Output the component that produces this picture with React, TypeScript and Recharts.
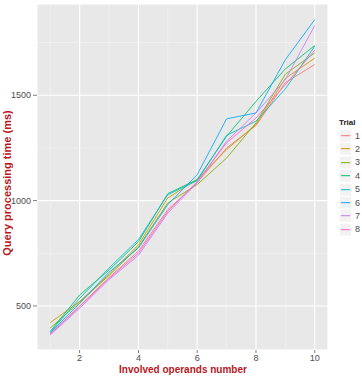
import { LineChart, Line, XAxis, YAxis, CartesianGrid, ReferenceLine } from "recharts";

const operands = [1, 2, 3, 4, 5, 6, 7, 8, 9, 10];
const trial1 = [367, 500, 635, 760, 957, 1085, 1250, 1356, 1560, 1646];
const trial2 = [421, 521, 650, 790, 1013, 1100, 1242, 1361, 1580, 1676];
const trial3 = [395, 518, 645, 780, 989, 1076, 1202, 1369, 1600, 1701];
const trial4 = [379, 552, 670, 805, 1033, 1100, 1305, 1471, 1625, 1736];
const trial5 = [375, 536, 680, 815, 1028, 1095, 1310, 1377, 1530, 1733];
const trial6 = [372, 512, 660, 775, 981, 1123, 1388, 1416, 1669, 1859];
const trial7 = [362, 489, 625, 740, 941, 1084, 1282, 1416, 1574, 1831];
const trial8 = [366, 497, 630, 750, 949, 1090, 1274, 1392, 1550, 1714];

const trialNames = ["1", "2", "3", "4", "5", "6", "7", "8"];
const trialColors = ["#F8766D", "#CD9600", "#7CAE00", "#00BE67", "#00BFC4", "#00A9FF", "#C77CFF", "#FF61CC"];
const xTicks = [2, 4, 6, 8, 10];
const xMinor = [1, 3, 5, 7, 9];
const yTicks = [500, 1000, 1500];
const yMinor = [750, 1250, 1750];

const trials = [trial1, trial2, trial3, trial4, trial5, trial6, trial7, trial8];
const data = operands.map((x, i) => {
  const row: Record<string, number> = { x };
  trials.forEach((t, j) => { row["t" + trialNames[j]] = t[i]; });
  return row;
});

const font = "'Liberation Sans', Arial, sans-serif";
const titleColor = "#B8171C";

const App = () => (
  <div style={{ position: "absolute", left: 0, top: 0, width: 362, height: 377, background: "#fff", fontFamily: font }}>
    <LineChart width={362} height={377} data={data} margin={{ top: 4, right: 34, left: 0, bottom: 0 }}>
      <CartesianGrid fill="#E8E8E8" stroke="#fff" strokeWidth={1.1} />
      {xMinor.map(v => <ReferenceLine key={"xm" + v} x={v} stroke="#F3F3F3" strokeWidth={0.6} />)}
      {yMinor.map(v => <ReferenceLine key={"ym" + v} y={v} stroke="#F3F3F3" strokeWidth={0.6} />)}
      <XAxis dataKey="x" type="number" domain={[0.55, 10.45]} ticks={xTicks} allowDataOverflow height={27}
        axisLine={false} tickSize={3} tickMargin={2} tickLine={{ stroke: "#7f7f7f" }}
        tick={{ fontSize: 9, fill: "#4d4d4d", fontFamily: font }} />
      <YAxis type="number" domain={[291, 1933]} ticks={yTicks} allowDataOverflow width={37}
        axisLine={false} tickSize={4} tickMargin={2} tickLine={{ stroke: "#7f7f7f" }}
        tick={{ fontSize: 9, fill: "#4d4d4d", fontFamily: font }} />
      {trialNames.map((n, i) => (
        <Line key={n} dataKey={"t" + n} stroke={trialColors[i]} strokeWidth={1} strokeOpacity={0.85} dot={false} isAnimationActive={false} />
      ))}
    </LineChart>
    <div style={{ position: "absolute", left: 0, width: 366, top: 364, textAlign: "center", fontSize: 10, fontWeight: "bold", color: titleColor, whiteSpace: "nowrap" }}>
      Involved operands number
    </div>
    <div style={{ position: "absolute", left: 7, top: 184, width: 0, height: 0 }}>
      <div style={{ position: "absolute", left: -100, top: -7, width: 200, textAlign: "center", transform: "rotate(-90deg)", fontSize: 11, fontWeight: "bold", color: titleColor, whiteSpace: "nowrap" }}>
        Query processing time (ms)
      </div>
    </div>
    <div style={{ position: "absolute", left: 339, top: 118 }}>
      <div style={{ fontSize: 8, fontWeight: "bold", color: "#222", height: 11 }}>Trial</div>
      {trialNames.map((n, i) => (
        <div key={n} style={{ display: "flex", alignItems: "center", height: 13.4 }}>
          <svg width={13} height={13.4} style={{ display: "block" }}>
            <rect x={0.5} y={0.5} width={12} height={12.4} fill="#F2F2F2" stroke="#fff" strokeWidth={0.5} />
            <line x1={2} x2={11} y1={6.7} y2={6.7} stroke={trialColors[i]} strokeWidth={1} />
          </svg>
          <span style={{ fontSize: 9, color: "#4d4d4d", marginLeft: 3 }}>{n}</span>
        </div>
      ))}
    </div>
  </div>
);

export default App;
